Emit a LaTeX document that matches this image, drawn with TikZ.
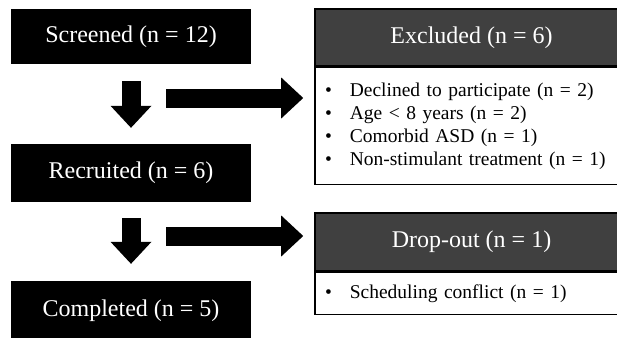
\documentclass[tikz,border=0pt]{standalone}
\usepackage{fontspec}
\setmainfont{Liberation Serif}
\usetikzlibrary{arrows.meta,positioning}
\definecolor{hdgray}{RGB}{64,64,64}

\begin{document}
\begin{tikzpicture}[x=1pt,y=-1pt]


\tikzset{stage/.style={rectangle,fill=black,text=white,minimum width=240pt,inner sep=0pt,font=\fontsize{24}{28}\selectfont},}
\tikzset{head/.style={rectangle,draw=black,line width=1.6pt,fill=hdgray,text=white,minimum width=313pt,inner sep=0pt,font=\fontsize{24}{28}\selectfont},}
\tikzset{reasons/.style={rectangle,draw=black,line width=1.6pt,fill=white,minimum width=313pt,text width=293pt,inner xsep=10pt,inner ysep=0pt,align=left,font=\fontsize{19.5}{23}\selectfont},}
\tikzset{fatarrow/.style={line width=19pt,-{Triangle[length=22pt,width=41pt,line width=0pt]}},}

\useasboundingbox (0,0) rectangle (617,337);
\clip (0,0) rectangle (617,337);

	\draw
		(131,36.5) node[stage,minimum height=55pt] (scr) {Screened (n = 12)}
		(131,173) node[stage,minimum height=58pt] (rec) {Recruited (n = 6)}
		(131,311) node[stage,minimum height=60pt] (comp) {Completed (n = 5)}
		(471.5,37.5) node[head,minimum height=57pt] (exc) {Excluded (n = 6)}
		(471.5,242) node[head,minimum height=58pt] (drop) {Drop-out (n = 1)};

	\node[reasons,minimum height=117pt,below=0pt of exc] (excl) {\textbullet\hspace{18pt}Declined to participate (n = 2)\\
		\textbullet\hspace{18pt}Age < 8 years (n = 2)\\
		\textbullet\hspace{18pt}Comorbid ASD (n = 1)\\
		\textbullet\hspace{18pt}Non-stimulant treatment (n = 1)};
	\node[reasons,minimum height=42pt,below=0pt of drop] (dropl) {\textbullet\hspace{18pt}Scheduling conflict (n = 1)};

	\coordinate (r1) at (166,98);
	\coordinate (r2) at (166,236);

	\draw[fatarrow,shorten <=17pt,shorten >=16pt](scr) -- (rec);
	\draw[fatarrow,shorten <=16pt,shorten >=17pt](rec) -- (comp);
	\draw[fatarrow,shorten >=11pt](r1) -- (exc.west |- r1);
	\draw[fatarrow,shorten >=11pt](r2) -- (drop.west |- r2);

\end{tikzpicture}
\end{document}
